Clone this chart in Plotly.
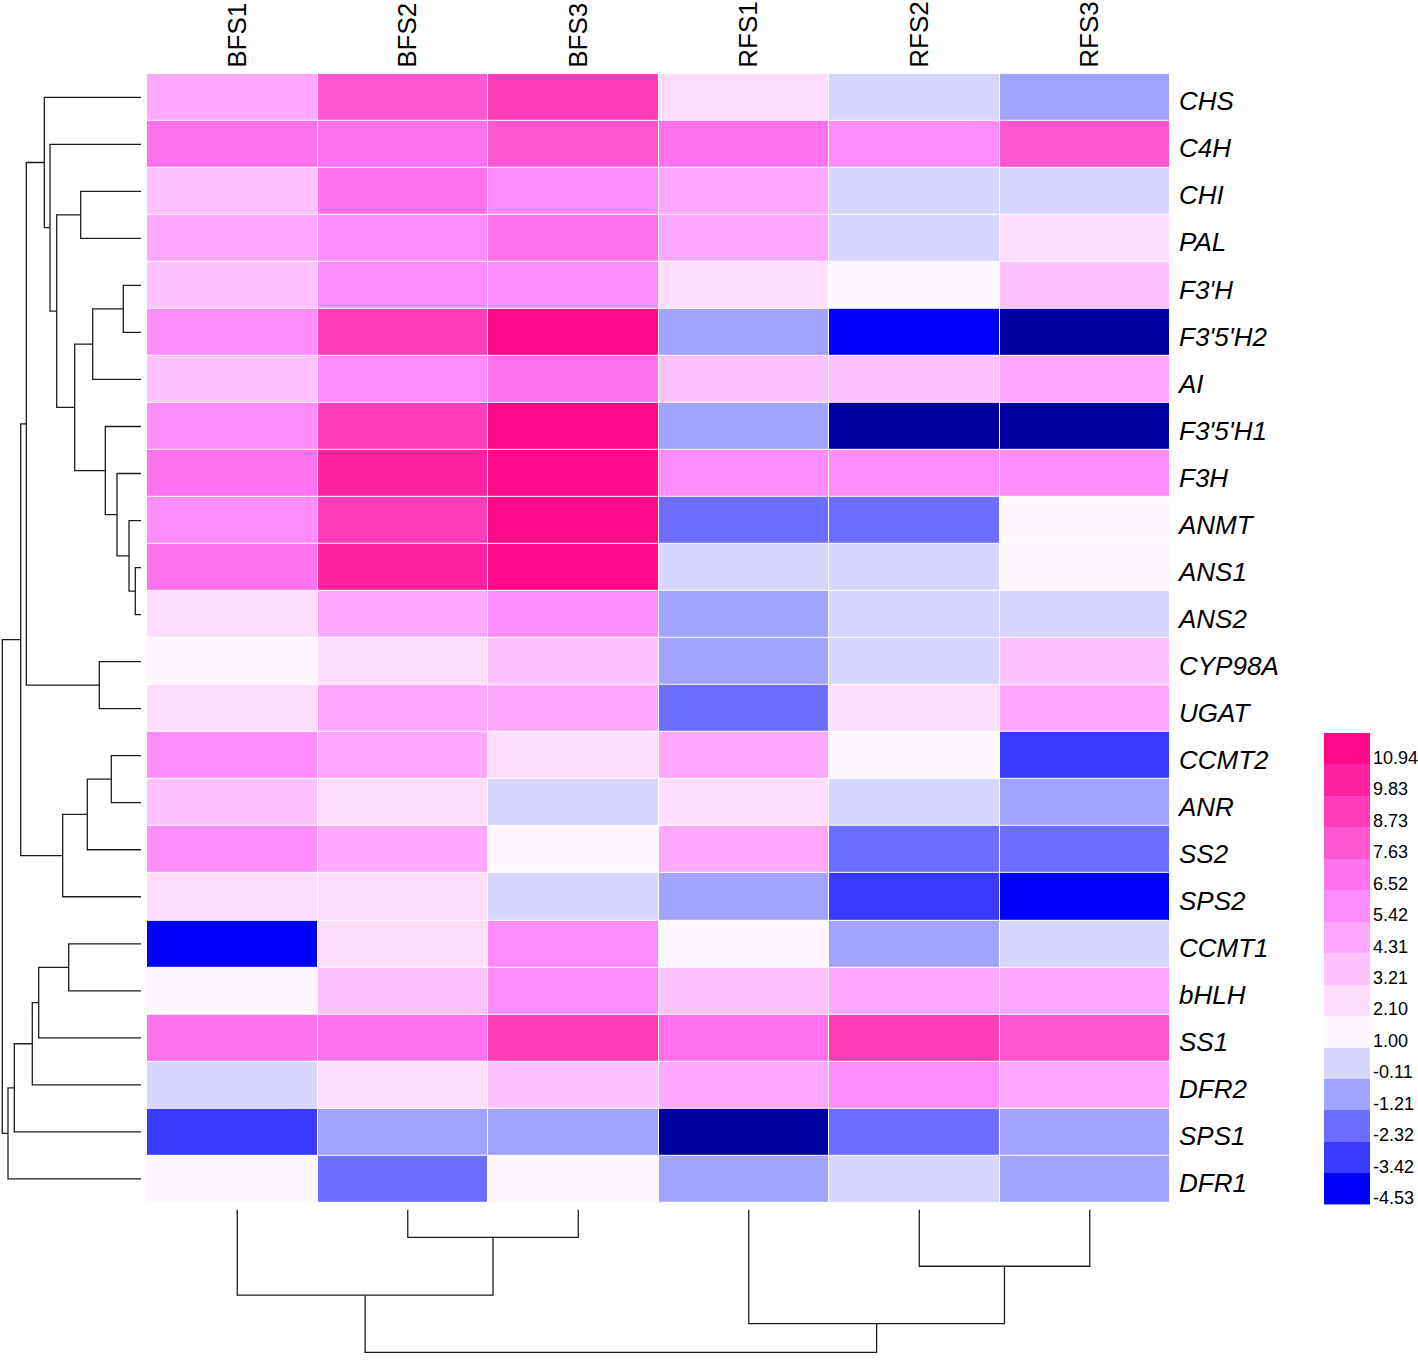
import plotly.graph_objects as go

# ---------------- data ----------------
genes = ["CHS", "C4H", "CHI", "PAL", "F3'H", "F3'5'H2", "AI", "F3'5'H1", "F3H",
         "ANMT", "ANS1", "ANS2", "CYP98A", "UGAT", "CCMT2", "ANR", "SS2", "SPS2",
         "CCMT1", "bHLH", "SS1", "DFR2", "SPS1", "DFR1"]
samples = ["BFS1", "BFS2", "BFS3", "RFS1", "RFS2", "RFS3"]

BFS1 = [4.82, 6.95, 3.66, 4.78, 3.71, 5.93, 3.62, 5.88, 7.04, 5.97, 7.10, 2.58,
        1.47, 2.62, 5.91, 3.68, 5.86, 2.55, -4.02, 1.52, 7.01, 0.42, -2.91, 1.49]
BFS2 = [8.12, 7.02, 6.98, 5.91, 5.94, 9.21, 5.89, 9.25, 10.32, 9.18, 10.41, 4.77,
        2.61, 4.83, 4.79, 2.57, 4.86, 2.63, 2.59, 3.72, 7.06, 2.64, -0.71, -1.82]
BFS3 = [9.24, 8.15, 5.92, 6.99, 5.88, 11.46, 7.03, 11.52, 11.38, 11.43, 11.49, 5.95,
        3.69, 4.81, 2.56, 0.44, 1.51, 0.38, 5.93, 5.87, 9.19, 3.74, -0.68, 1.46]
RFS1 = [2.57, 7.05, 4.84, 4.79, 2.62, -0.72, 3.70, -0.66, 5.90, -1.78, 0.41, -0.69,
        -0.74, -1.83, 4.80, 2.59, 4.76, -0.71, 1.48, 3.67, 6.97, 4.83, -5.12, -0.70]
RFS2 = [0.43, 5.94, 0.39, 0.46, 1.53, -4.05, 3.66, -5.08, 5.96, -1.76, 0.40, 0.44,
        0.37, 2.58, 1.50, 0.42, -1.81, -2.93, -0.67, 4.79, 9.23, 5.92, -1.79, 0.41]
RFS3 = [-0.69, 8.09, 0.45, 2.61, 3.73, -5.15, 4.81, -5.10, 5.89, 1.52, 1.49, 0.38,
        3.71, 4.85, -2.88, -0.73, -1.84, -3.98, 0.43, 4.77, 8.11, 4.84, -0.66, -0.72]

legend_labels = [-4.53, -3.42, -2.32, -1.21, -0.11, 1.00, 2.10, 3.21, 4.31,
                 5.42, 6.52, 7.63, 8.73, 9.83, 10.94]

# hierarchical clustering (left, right, merge height)
row_merges = [
    ("ANS1", "ANS2", 5.7),        # n0
    ("ANMT", "n0", 12.0),         # n1
    ("F3H", "n1", 24.0),          # n2
    ("F3'5'H1", "n2", 35.7),      # n3
    ("F3'H", "F3'5'H2", 17.7),    # n4
    ("n4", "AI", 48.3),           # n5
    ("n5", "n3", 66.3),           # n6
    ("CHI", "PAL", 60.3),         # n7
    ("n7", "n6", 84.3),           # n8
    ("C4H", "n8", 91.0),          # n9
    ("CHS", "n9", 96.7),          # n10
    ("CYP98A", "UGAT", 41.7),     # n11
    ("n10", "n11", 114.7),        # n12
    ("CCMT2", "ANR", 29.7),       # n13
    ("n13", "SS2", 53.7),         # n14
    ("n14", "SPS2", 78.3),        # n15
    ("n12", "n15", 120.3),        # n16
    ("CCMT1", "bHLH", 72.3),      # n17
    ("n17", "SS1", 102.3),        # n18
    ("n18", "DFR2", 108.7),       # n19
    ("n19", "SPS1", 126.7),       # n20
    ("n20", "DFR1", 133.0),       # n21
    ("n16", "n21", 138.7),        # n22
]
col_merges = [
    ("BFS2", "BFS3", 27.7),   # n0
    ("BFS1", "n0", 85.7),     # n1
    ("RFS2", "RFS3", 56.7),   # n2
    ("RFS1", "n2", 114.3),    # n3
    ("n1", "n3", 143.0),      # n4
]

# ---------------- helpers ----------------
W, H = 1418, 1360


def dendro_segments(leaves, merges):
    pos = {name: float(i) for i, name in enumerate(leaves)}
    hgt = {name: 0.0 for name in leaves}
    P, Hs = [], []
    for k, (a, b, h) in enumerate(merges):
        pa, pb = pos[a], pos[b]
        P += [pa, pa, pb, pb, None]
        Hs += [hgt[a], h, h, hgt[b], None]
        nid = "n%d" % k
        pos[nid] = (pa + pb) / 2.0
        hgt[nid] = h
    return P, Hs


nbins = len(legend_labels) + 1
step = (legend_labels[-1] - legend_labels[0]) / (len(legend_labels) - 1)
zmin = legend_labels[0] - step
zmax = legend_labels[-1] + step
bin_colors = ["#00009F", "#0000FF", "#3939FF", "#6D6DFF", "#A2A2FF", "#D6D6FF",
              "#FFF7FE", "#FFDEFB", "#FFC2FC", "#FFA8FD", "#FF8CFC", "#FF71EE",
              "#FF57D2", "#FF3DBA", "#FF22A0", "#FF0A89"]
colorscale = []
for i, c in enumerate(bin_colors):
    colorscale.append([i / nbins, c])
    colorscale.append([(i + 1) / nbins, c])

z = [[BFS1[r], BFS2[r], BFS3[r], RFS1[r], RFS2[r], RFS3[r]] for r in range(len(genes))]

fig = go.Figure()

# main heatmap
fig.add_trace(go.Heatmap(
    z=z, x=list(range(len(samples))), y=list(range(len(genes))),
    colorscale=colorscale, zmin=zmin, zmax=zmax, showscale=False,
    xgap=1, ygap=1, xaxis="x", yaxis="y", hoverinfo="skip"))

# row dendrogram
rp, rh = dendro_segments(genes, row_merges)
fig.add_trace(go.Scatter(x=rh, y=rp, mode="lines", xaxis="x2", yaxis="y",
                         line=dict(color="#1e1e1e", width=1.3), hoverinfo="skip",
                         showlegend=False))

# column dendrogram
cp, ch = dendro_segments(samples, col_merges)
fig.add_trace(go.Scatter(x=cp, y=ch, mode="lines", xaxis="x3", yaxis="y3",
                         line=dict(color="#1e1e1e", width=1.3), hoverinfo="skip",
                         showlegend=False))

# colour legend
fig.add_trace(go.Heatmap(
    z=[[v + step / 2] for v in legend_labels], x=[0], y=list(range(len(legend_labels))),
    colorscale=colorscale, zmin=zmin, zmax=zmax, showscale=False,
    xaxis="x4", yaxis="y4", hoverinfo="skip"))

font_family = "Liberation Sans, Arial, sans-serif"
hx0, hx1 = 147 / W, 1170 / W
hy0, hy1 = (H - 1206) / H, (H - 74) / H

fig.update_layout(
    width=W, height=H, margin=dict(l=0, r=0, t=0, b=0),
    paper_bgcolor="white", plot_bgcolor="white", showlegend=False,
    font=dict(family=font_family, color="black"),
    xaxis=dict(domain=[hx0, hx1], range=[-0.5, 5.5], side="top",
               tickvals=list(range(len(samples))), ticktext=samples,
               tickangle=-90, tickfont=dict(size=26, family=font_family),
               ticks="", showgrid=False, zeroline=False, showline=False,
               ticklabelstandoff=5, ticklabelshift=5),
    yaxis=dict(domain=[hy0, hy1], range=[len(genes) - 0.5, -0.5], side="right",
               anchor="x",
               tickvals=list(range(len(genes))), ticktext=genes,
               tickfont=dict(size=26, family=font_family, style="italic"),
               ticks="", showgrid=False, zeroline=False, showline=False,
               ticklabelstandoff=8, ticklabelshift=-4),
    xaxis2=dict(domain=[0, hx0], range=[141, -6], visible=False, anchor="y"),
    xaxis3=dict(domain=[152 / W, 1175 / W], range=[-0.5, 5.5], visible=False, anchor="y3"),
    yaxis3=dict(domain=[0, hy0], range=[146.7, -7.3], visible=False, anchor="x3"),
    xaxis4=dict(domain=[1324 / W, 1370 / W], range=[-0.5, 0.5], visible=False, anchor="y4"),
    yaxis4=dict(domain=[(H - 1208) / H, (H - 735) / H], range=[-0.5, len(legend_labels) - 0.5],
                side="right", anchor="x4",
                tickvals=list(range(len(legend_labels))),
                ticktext=["%.2f" % v for v in legend_labels],
                tickfont=dict(size=18, family=font_family),
                ticks="", showgrid=False, zeroline=False, showline=False,
                ticklabelstandoff=2, ticklabelshift=9),
)

fig.write_html("out.html", config={"displayModeBar": False},
               post_script="document.body.style.margin='0';")
